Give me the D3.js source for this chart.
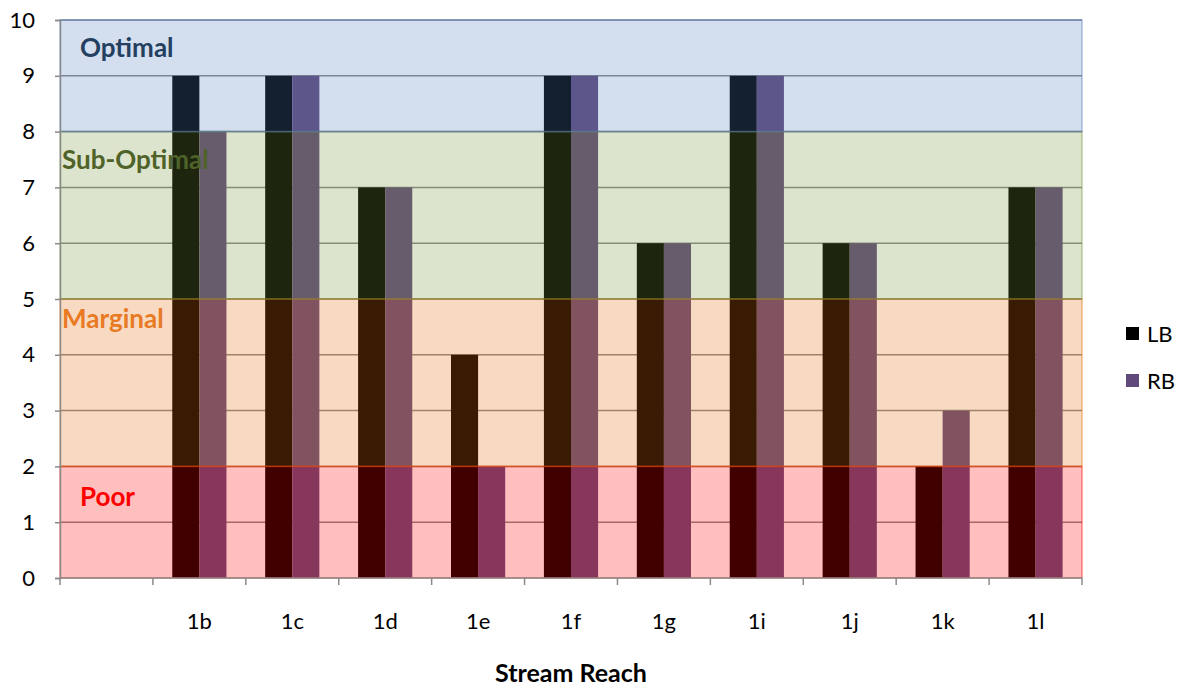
<!DOCTYPE html>
<html>
<head>
<meta charset="utf-8">
<script src="https://cdn.jsdelivr.net/npm/d3@7/dist/d3.min.js"></script>
<style>
  html, body { margin: 0; padding: 0; background: #fff; }
  svg { display: block; font-family: Lato, "Open Sans", sans-serif; }
</style>
</head>
<body>
<svg id="chart" width="1181" height="687"></svg>
<script>
// Habitat condition scores by stream reach, left and right bank
const reaches = ["", "1b", "1c", "1d", "1e", "1f", "1g", "1i", "1j", "1k", "1l"];
const lbScores = [null, 9, 9, 7, 4, 9, 6, 9, 6, 2, 7];
const rbScores = [null, 8, 9, 7, 2, 9, 6, 9, 6, 3, 7];
const seriesNames = ["LB", "RB"];
const seriesColors = ["#000000", "#604a7b"];
const yTicks = [0, 1, 2, 3, 4, 5, 6, 7, 8, 9, 10];

// Condition classes shaded across the plot
const bandNames = ["Poor", "Marginal", "Sub-Optimal", "Optimal"];
const bandLow = [0, 2, 5, 8];
const bandHigh = [2, 5, 8, 10];
const bandColors = ["#ff0000", "#e46c0a", "#77933c", "#4f7bbd"];
const bandTextColors = ["#ff0000", "#e87a24", "#4f6228", "#243f60"];

const svg = d3.select("#chart");
const plotL = 60, plotR = 1082, plotT = 20, plotB = 578;

const x = d3.scaleBand().domain(reaches).range([plotL, plotR]).paddingInner(0).paddingOuter(0);
const y = d3.scaleLinear().domain([0, 10]).range([plotB, plotT]);
const inner = d3.scaleBand().domain(seriesNames).range([0, x.bandwidth()]).paddingInner(0).paddingOuter(0.715);

// horizontal gridlines
svg.append("g").selectAll("line").data(yTicks.filter(d => d > 0)).join("line")
  .attr("x1", plotL).attr("x2", plotR)
  .attr("y1", d => y(d)).attr("y2", d => y(d))
  .attr("stroke", "#8a8a8a").attr("stroke-width", 1.5);

// bars
const rows = reaches.map((r, i) => ({ reach: r, LB: lbScores[i], RB: rbScores[i] }));
const g = svg.append("g");
seriesNames.forEach((s, si) => {
  g.selectAll(".bar-" + s).data(rows.filter(d => d[s] != null)).join("rect")
    .attr("class", "bar-" + s)
    .attr("x", d => x(d.reach) + inner(s))
    .attr("width", inner.bandwidth())
    .attr("y", d => y(d[s]))
    .attr("height", d => y(0) - y(d[s]))
    .attr("fill", seriesColors[si]);
});

// translucent condition bands over the bars
svg.append("g").selectAll("rect").data(bandNames.map((n, i) => i)).join("rect")
  .attr("x", plotL)
  .attr("width", plotR - plotL)
  .attr("y", i => y(bandHigh[i]))
  .attr("height", i => y(bandLow[i]) - y(bandHigh[i]))
  .attr("fill", i => bandColors[i])
  .attr("fill-opacity", 0.25)
  .attr("stroke", i => bandColors[i])
  .attr("stroke-opacity", 0.45)
  .attr("stroke-width", 1.5);

// band labels
const labelPos = [[80, 1.45], [62, 4.65], [62, 7.5], [80, 9.5]];
svg.append("g").selectAll("text").data(bandNames.map((n, i) => i)).join("text")
  .attr("x", i => labelPos[i][0])
  .attr("y", i => y(labelPos[i][1]))
  .attr("dy", "0.35em")
  .attr("fill", i => bandTextColors[i])
  .attr("font-weight", "bold")
  .attr("font-size", 26)
  .text(i => bandNames[i]);

// y axis
const yAxis = svg.append("g").attr("transform", `translate(${plotL},0)`)
  .call(d3.axisLeft(y).tickValues(yTicks).tickSize(5).tickPadding(20));
yAxis.select(".domain").attr("stroke", "#8a8a8a").attr("stroke-width", 1.5);
yAxis.selectAll(".tick line").attr("stroke", "#8a8a8a").attr("stroke-width", 1.5);
yAxis.selectAll(".tick text").attr("font-size", 22).attr("fill", "#000").attr("font-family", "Lato, sans-serif");

// x axis with ticks between categories
const xAxis = svg.append("g").attr("transform", `translate(0,${plotB})`);
xAxis.append("line").attr("x1", plotL).attr("x2", plotR).attr("stroke", "#8a8a8a").attr("stroke-width", 1.5);
const bounds = reaches.map(r => x(r)).concat([plotR]);
xAxis.selectAll(".xt").data(bounds).join("line")
  .attr("class", "xt")
  .attr("x1", d => d).attr("x2", d => d).attr("y1", 0).attr("y2", 7)
  .attr("stroke", "#8a8a8a").attr("stroke-width", 1.5);
xAxis.selectAll(".xl").data(reaches).join("text")
  .attr("class", "xl")
  .attr("x", d => x(d) + x.bandwidth() / 2)
  .attr("y", 51)
  .attr("text-anchor", "middle")
  .attr("font-size", 22)
  .attr("fill", "#000")
  .text(d => d);

// axis title
svg.append("text").attr("x", 571).attr("y", 682)
  .attr("text-anchor", "middle").attr("font-weight", "bold").attr("font-size", 25)
  .text("Stream Reach");

// legend
const legend = svg.append("g");
seriesNames.forEach((s, i) => {
  const ly = 334 + i * 47;
  legend.append("rect").attr("x", 1126).attr("y", ly - 7).attr("width", 13).attr("height", 13)
    .attr("fill", seriesColors[i]);
  legend.append("text").attr("x", 1147).attr("y", ly).attr("dy", "0.35em")
    .attr("font-size", 22).text(s);
});
</script>
</body>
</html>
